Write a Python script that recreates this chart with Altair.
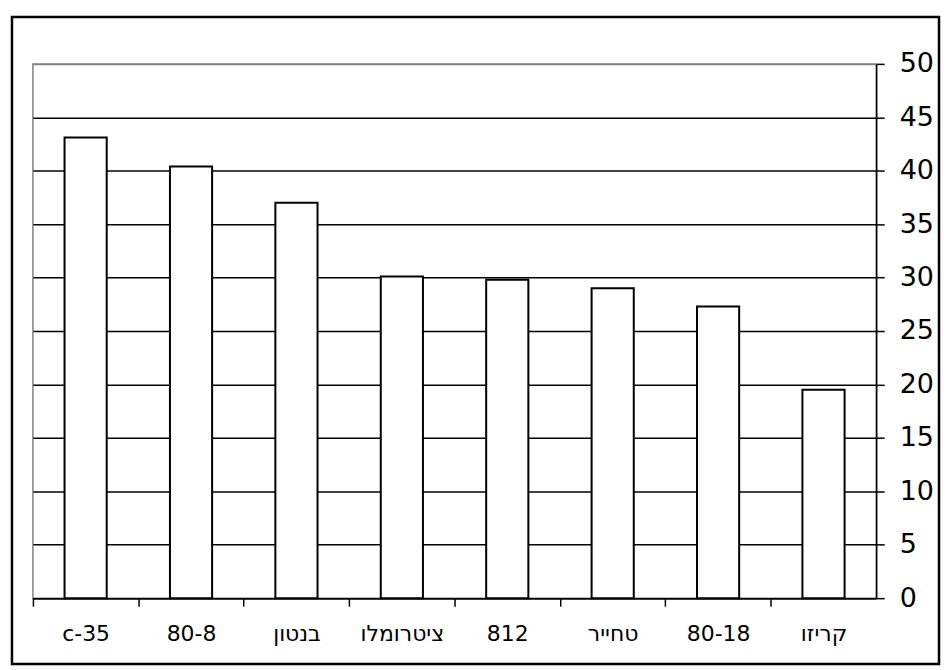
import altair as alt
import pandas as pd

categories = ["c-35", "80-8", "בנטון", "ציטרומלו", "812", "טחייר", "80-18", "קריזו"]
values = [43.1, 40.4, 37.0, 30.1, 29.8, 29.0, 27.3, 19.5]
y_ticks = [0, 5, 10, 15, 20, 25, 30, 35, 40, 45, 50]

df = pd.DataFrame({"cat": categories, "val": values})

W, H = 846, 536
FONT = "DejaVu Sans"
STEP = W / len(categories)

bars = alt.Chart(df).mark_bar(fill="white", stroke="black", strokeWidth=2).encode(
    x=alt.X(
        "cat:N",
        sort=None,
        title=None,
        scale=alt.Scale(paddingInner=0.6, paddingOuter=0.3),
        axis=alt.Axis(
            orient="bottom",
            tickOffset=-STEP / 2,
            labelOffset=STEP / 2,
            labelAngle=0,
            labelFont=FONT,
            labelFontSize=22,
            labelColor="black",
            labelPadding=17,
            tickSize=8,
            tickColor="black",
            tickWidth=1.5,
            domainColor="black",
            domainWidth=1.5,
            grid=False,
        ),
    ),
    y=alt.Y(
        "val:Q",
        title=None,
        scale=alt.Scale(domain=[0, 50], nice=False),
        axis=alt.Axis(
            orient="right",
            values=y_ticks,
            labelFont=FONT,
            labelFontSize=27,
            labelColor="black",
            labelPadding=15,
            tickSize=8,
            tickColor="black",
            tickWidth=1.5,
            domainColor="black",
            domainWidth=1.5,
            grid=True,
            gridColor={"expr": "datum.value == 50 ? '#808080' : 'black'"},
            gridWidth=1.5,
            gridOpacity=1,
        ),
    ),
)

frame = alt.Chart(alt.Data(values=[{}])).mark_rect(
    fill=None, stroke="black", strokeWidth=2.5, clip=False
).encode(
    x=alt.value(-21),
    x2=alt.value(W + 63),
    y=alt.value(-47),
    y2=alt.value(H + 66),
)

chart = alt.layer(bars, frame).properties(
    width=W,
    height=H,
    padding={"left": 2, "top": 6, "right": 0, "bottom": 0},
    background="white",
).configure_view(stroke="#808080", strokeWidth=1.5)

chart.save("out.html", embed_options={"renderer": "svg", "actions": False})
